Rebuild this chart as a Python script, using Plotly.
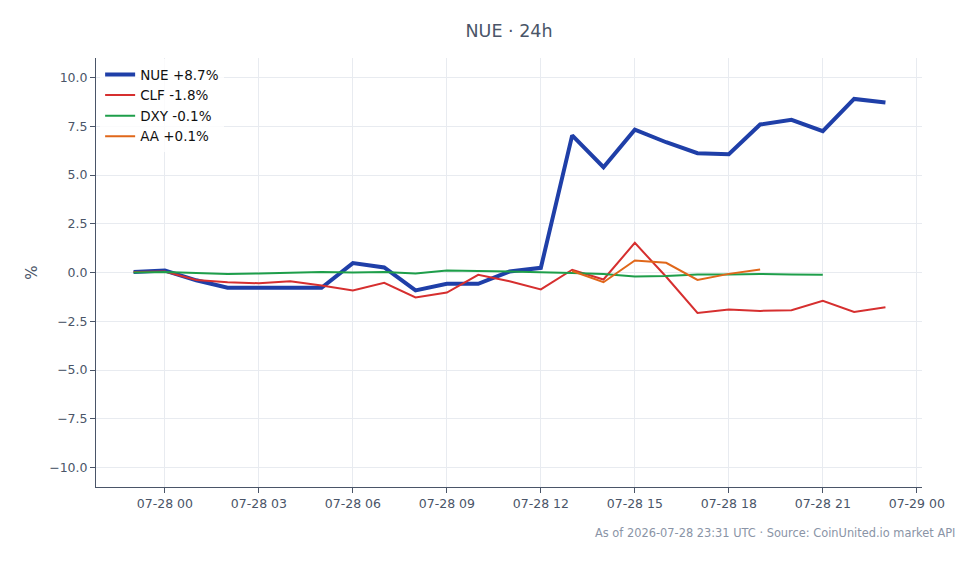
import plotly.graph_objects as go
import pandas as pd

times = pd.date_range("2026-07-27 23:00", "2026-07-28 23:00", freq="h")

nue = [0.02, 0.1, -0.4, -0.78, -0.78, -0.78, -0.78, 0.48, 0.26, -0.92, -0.58, -0.58,
       0.05, 0.24, 7.03, 5.4, 7.32, 6.68, 6.12, 6.07, 7.59, 7.83, 7.25, 8.9, 8.72]
clf = [0.02, 0.05, -0.38, -0.5, -0.55, -0.45, -0.67, -0.92, -0.53, -1.28, -1.03, -0.12,
       -0.45, -0.87, 0.14, -0.36, 1.52, -0.22, -2.07, -1.9, -1.97, -1.93, -1.45, -2.02, -1.78]
dxy = [0.0, 0.02, -0.02, -0.08, -0.05, 0.0, 0.02, 0.0, 0.02, -0.05, 0.1, 0.08,
       0.05, 0.03, -0.02, -0.08, -0.2, -0.18, -0.1, -0.1, -0.08, -0.1, -0.12]
aa = [0.08, -0.5, 0.62, 0.5, -0.38, -0.07, 0.15]
aa_times = times[14:21]

series = [
    ("NUE +8.7%", times, nue, "#1f3fa8", 4),
    ("CLF -1.8%", times, clf, "#d62f2f", 2),
    ("DXY -0.1%", times[:len(dxy)], dxy, "#1e9e4a", 2),
    ("AA +0.1%", aa_times, aa, "#e0671a", 2),
]

fig = go.Figure()
for name, x, y, color, w in series:
    fig.add_trace(go.Scatter(x=x, y=y, mode="lines", name=name,
                             line=dict(color=color, width=w)))

fig.add_shape(type="line", xref="paper", x0=0, x1=1, yref="y", y0=0, y1=0,
              line=dict(color="#94a3b8", width=1, dash="dash"), layer="below")

axis_color = "#4a5568"
fig.update_layout(
    width=978, height=564,
    margin=dict(l=96, r=56, t=58, b=77),
    paper_bgcolor="white", plot_bgcolor="white",
    font=dict(family="DejaVu Sans", size=12.5, color=axis_color),
    title=dict(text="NUE · 24h", x=0.5, xref="paper", xanchor="center",
               y=1 - 31 / 564, yref="container", yanchor="middle",
               font=dict(size=17.5, color=axis_color)),
    showlegend=True,
    legend=dict(x=0.005, y=0.997, xanchor="left", yanchor="top",
                bgcolor="rgba(255,255,255,0.8)", tracegroupgap=0,
                font=dict(size=13.5, color="#111111")),
    xaxis=dict(range=["2026-07-27 21:48", "2026-07-29 00:10"],
               tickformat="%m-%d %H", dtick=3 * 3600 * 1000,
               tick0="2026-07-28 00:00",
               showgrid=True, gridcolor="#e8ebf0", gridwidth=1,
               showline=True, linecolor=axis_color, linewidth=1,
               ticks="outside", ticklen=5, tickcolor=axis_color,
               zeroline=False),
    yaxis=dict(range=[-11, 11], dtick=2.5, tickformat=".1f",
               title=dict(text="%", standoff=7),
               showgrid=True, gridcolor="#e8ebf0", gridwidth=1,
               showline=True, linecolor=axis_color, linewidth=1,
               ticks="outside", ticklen=5, tickcolor=axis_color,
               zeroline=False),
    annotations=[dict(text="As of 2026-07-28 23:31 UTC · Source: CoinUnited.io market API",
                      xref="paper", yref="paper", x=1.0425, y=-0.086,
                      xanchor="right", yanchor="top", showarrow=False,
                      font=dict(size=11.4, color="#8a94a6"))],
)

fig.write_html("out.html")
